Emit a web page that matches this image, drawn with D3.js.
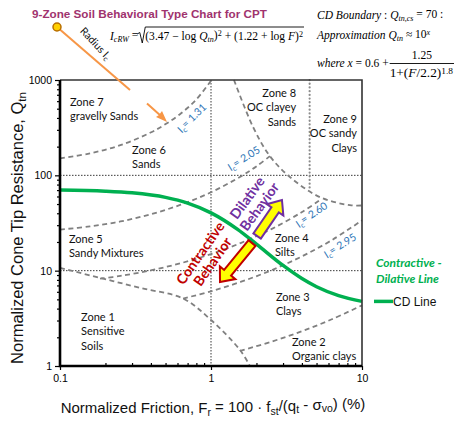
<!DOCTYPE html>
<html>
<head>
<meta charset="utf-8">
<script src="https://cdn.jsdelivr.net/npm/d3@7"></script>
<style>
  body { margin: 0; background: #fff; }
  svg { display: block; }
</style>
</head>
<body>
<div id="chart"></div>
<script>
// Data (F = normalized friction %, Q = Qtn)
var frTicks = [0.1, 1, 10];
var qtnTicks = [1, 10, 100, 1000];

// Ic contours
var ic131F = [0.1, 0.158, 0.251, 0.398, 0.501, 0.631, 0.794, 1.0, 1.006];
var ic131Q = [151, 170, 207, 281, 345, 445, 617, 984, 1000];
var ic205F = [0.1, 0.158, 0.251, 0.398, 0.631, 1.0, 1.585, 1.995, 2.455];
var ic205Q = [27.0, 29.1, 32.8, 39.0, 49.2, 66.4, 98.0, 124, 159];
var ic260F = [0.184, 0.251, 0.398, 0.631, 1.0, 1.585, 2.512, 3.981, 5.25];
var ic260Q = [8.23, 8.81, 10.06, 11.98, 14.93, 19.6, 27.3, 41.0, 54.8];
var ic295F = [0.653, 1.0, 1.585, 2.512, 3.981, 6.31, 10];
var ic295Q = [5.10, 6.08, 7.66, 10.1, 14.07, 20.9, 33.7];
var ic360F = [1.556, 2.512, 3.981, 6.31, 10];
var ic360Q = [1.44, 1.80, 2.31, 3.09, 4.33];

// zone boundaries
var zone1F = [0.1, 0.184, 0.339, 0.653, 1.0, 1.556, 1.81];
var zone1Q = [10.7, 8.4, 6.6, 5.1, 3.04, 1.47, 1.0];
var zone8F = [1.42, 1.90, 2.455, 3.33, 5.27, 8.32, 10];
var zone8Q = [1000, 321, 159, 96, 59, 48.6, 48.3];
var zone89F = [4.5, 4.5];
var zone89Q = [1000, 72];

// contractive - dilative boundary
var cdF = [0.1, 0.2, 0.3, 0.5, 0.7, 1.0, 1.5, 2.0, 3.0, 4.0, 5.0, 7.0, 10];
var cdQ = [70, 68.2, 65.5, 58.7, 51.1, 40.4, 27.1, 19.0, 11.35, 8.28, 6.79, 5.48, 4.76];

var icLabels = ["1.31", "2.05", "2.60", "2.95"];
var zoneNames = [
  ["Zone 7", "gravelly Sands"],
  ["Zone 6", "Sands"],
  ["Zone 8", "OC clayey", "Sands"],
  ["Zone 9", "OC sandy", "Clays"],
  ["Zone 5", "Sandy Mixtures"],
  ["Zone 1", "Sensitive", "Soils"],
  ["Zone 4", "Silts"],
  ["Zone 3", "Clays"],
  ["Zone 2", "Organic clays"]
];

// Set size of chart
var svgWidth = 456;
var svgHeight = 424;
var margin = { top: 80, right: 94, bottom: 58, left: 60 };
var width = svgWidth - margin.left - margin.right;
var height = svgHeight - margin.top - margin.bottom;

var svg = d3.select("#chart")
  .append("svg")
  .attr("width", svgWidth)
  .attr("height", svgHeight);

var chartGroup = svg.append("g")
  .attr("transform", `translate(${margin.left}, ${margin.top})`);

var x = d3.scaleLog().domain([0.1, 10]).range([0, width]);
var y = d3.scaleLog().domain([1, 1000]).range([height, 0]);

var line = d3.line()
  .x(d => x(d[0]))
  .y(d => y(d[1]))
  .curve(d3.curveCatmullRom);

// rich text helper: parts = [{t, i, sub, sup}]
function rich(sel, parts) {
  var shift = 0;
  parts.forEach(function (p) {
    var target = p.sub ? 0.25 : (p.sup ? -0.38 : 0);
    sel.append("tspan")
      .attr("dy", (target - shift) + "em")
      .style("font-size", (p.sub || p.sup) ? "0.7em" : null)
      .style("font-style", p.i ? "italic" : null)
      .text(p.t);
    shift = target;
  });
  return sel;
}

// dotted grid lines
var grid = chartGroup.append("g")
  .attr("stroke", "#222")
  .attr("stroke-width", 0.9)
  .attr("stroke-dasharray", "1.5,1.5");
[10, 100].forEach(function (q) {
  grid.append("line").attr("x1", 0).attr("x2", width).attr("y1", y(q)).attr("y2", y(q));
});
grid.append("line").attr("x1", x(1)).attr("x2", x(1)).attr("y1", 0).attr("y2", height);

// dashed boundaries
var dashed = [
  [ic131F, ic131Q], [ic205F, ic205Q], [ic260F, ic260Q], [ic295F, ic295Q],
  [ic360F, ic360Q], [zone1F, zone1Q], [zone8F, zone8Q]
];
chartGroup.append("g")
  .selectAll("path")
  .data(dashed)
  .enter()
  .append("path")
  .attr("d", d => line(d3.zip(d[0], d[1])))
  .attr("fill", "none")
  .attr("stroke", "#808080")
  .attr("stroke-width", 1.8)
  .attr("stroke-dasharray", "5,3.5");

chartGroup.append("path")
  .attr("d", d3.line().x(d => x(d[0])).y(d => y(d[1]))(d3.zip(zone89F, zone89Q)))
  .attr("stroke", "#8c8c8c")
  .attr("stroke-width", 2.2)
  .attr("stroke-linecap", "round")
  .attr("stroke-dasharray", "0.1,3.6");

// CD line
chartGroup.append("path")
  .attr("d", d3.line().x(d => x(d[0])).y(d => y(d[1])).curve(d3.curveMonotoneX)(d3.zip(cdF, cdQ)))
  .attr("fill", "none")
  .attr("stroke", "#00B050")
  .attr("stroke-width", 3.5);

// axes
var leftMinor = [];
var bottomMinor = [];
[1, 10, 100].forEach(function (d) { for (var k = 2; k < 10; k++) leftMinor.push(d * k); });
[0.1, 1].forEach(function (d) { for (var k = 2; k < 10; k++) bottomMinor.push(d * k); });

chartGroup.append("g")
  .attr("class", "axis")
  .call(d3.axisLeft(y).tickValues(leftMinor).tickSize(3).tickFormat(""));
chartGroup.append("g")
  .attr("class", "axis")
  .call(d3.axisLeft(y).tickValues(qtnTicks).tickSize(5).tickPadding(3).tickFormat(d3.format("d")));
chartGroup.append("g")
  .attr("class", "axis")
  .attr("transform", `translate(0, ${height})`)
  .call(d3.axisBottom(x).tickValues(bottomMinor).tickSize(-3).tickFormat(""));
chartGroup.append("g")
  .attr("class", "axis")
  .attr("transform", `translate(0, ${height})`)
  .call(d3.axisBottom(x).tickValues(frTicks).tickSize(4).tickPadding(5).tickFormat(d => d));

chartGroup.selectAll(".axis .domain").remove();
chartGroup.selectAll(".axis line").attr("stroke", "#000").attr("stroke-width", 1.2);
chartGroup.selectAll(".axis text")
  .style("font-family", "Liberation Sans, Arial, sans-serif")
  .style("font-size", "10.5px")
  .attr("fill", "#000");

// frame
chartGroup.append("path")
  .attr("d", `M0,0H${width}V${height}`)
  .attr("fill", "none")
  .attr("stroke", "#333")
  .attr("stroke-width", 1.6);
chartGroup.append("path")
  .attr("d", `M0,0V${height}H${width}`)
  .attr("fill", "none")
  .attr("stroke", "#000")
  .attr("stroke-width", 2.6);

// zone labels (anchor F, Q of first baseline)
var zonePos = [
  [0.1165, 534, "start"], [0.300, 167, "start"], [3.66, 663, "end"], [9.27, 354, "end"],
  [0.1147, 19.5, "start"], [0.138, 2.96, "start"], [2.65, 20.0, "start"],
  [2.69, 4.81, "start"], [3.44, 1.62, "start"]
];
zoneNames.forEach(function (lines, i) {
  var t = chartGroup.append("text")
    .attr("x", x(zonePos[i][0]))
    .attr("y", y(zonePos[i][1]))
    .attr("text-anchor", zonePos[i][2])
    .style("font-family", "Lato, sans-serif")
    .style("font-size", "11px")
    .attr("fill", "#111");
  lines.forEach(function (s, j) {
    t.append("tspan").attr("x", x(zonePos[i][0])).attr("dy", j ? 14.3 : 0).text(s);
  });
});

// Ic labels
var icPos = [[0.78, 370, -44], [1.705, 138, -32], [4.80, 35.5, -34], [7.40, 16.8, -32]];
icLabels.forEach(function (v, i) {
  var t = chartGroup.append("text")
    .attr("transform", `translate(${x(icPos[i][0])}, ${y(icPos[i][1])}) rotate(${icPos[i][2]})`)
    .attr("text-anchor", "middle")
    .attr("dy", "0.35em")
    .style("font-family", "Lato, sans-serif")
    .style("font-size", "10.5px")
    .attr("fill", "#2E75B6");
  rich(t, [{ t: "I" }, { t: "c", sub: true }, { t: "= " + v }]);
});

// block arrows
function blockArrow(p0, p1, sw, hw, hl) {
  var dx = p1[0] - p0[0], dy = p1[1] - p0[1], L = Math.hypot(dx, dy);
  var ux = dx / L, uy = dy / L, nx = -uy, ny = ux;
  var bx = p1[0] - ux * hl, by = p1[1] - uy * hl;
  return [
    [p0[0] + nx * sw, p0[1] + ny * sw], [bx + nx * sw, by + ny * sw], [bx + nx * hw, by + ny * hw],
    p1, [bx - nx * hw, by - ny * hw], [bx - nx * sw, by - ny * sw], [p0[0] - nx * sw, p0[1] - ny * sw]
  ];
}
chartGroup.append("polygon")
  .attr("points", blockArrow([x(2.02), y(23.1)], [x(2.95), y(55.1)], 4.5, 10, 12).join(" "))
  .attr("fill", "#FFFF00")
  .attr("stroke", "#7030A0")
  .attr("stroke-width", 2);
chartGroup.append("polygon")
  .attr("points", blockArrow([x(1.87), y(19.5)], [x(1.147), y(7.6)], 4.5, 10, 12).join(" "))
  .attr("fill", "#FFFF00")
  .attr("stroke", "#C00000")
  .attr("stroke-width", 2);

// behavior texts
function twoLines(F, Q, rot, color, a, b) {
  var g = chartGroup.append("g")
    .attr("transform", `translate(${x(F)}, ${y(Q)}) rotate(${rot})`)
    .style("font-family", "Lato, sans-serif")
    .style("font-size", "14px")
    .style("font-weight", "bold")
    .attr("fill", color)
    .attr("text-anchor", "middle");
  g.append("text").attr("dy", "0.35em").text(a);
  g.append("text").attr("y", 15).attr("dy", "0.35em").text(b);
}
twoLines(1.74, 58, -54, "#7030A0", "Dilative", "Behavior");
twoLines(0.85, 15.3, -55, "#C00000", "Contractive", "Behavior");

// radius annotation
svg.append("line")
  .attr("x1", 57).attr("y1", 27).attr("x2", 130).attr("y2", 90)
  .attr("stroke", "#F79646").attr("stroke-width", 2);
svg.append("line")
  .attr("x1", 147).attr("y1", 103.5).attr("x2", 161).attr("y2", 116)
  .attr("stroke", "#F79646").attr("stroke-width", 2);
svg.append("path")
  .attr("d", "M167,122 L156,117 L159,115 L162,111 Z")
  .attr("fill", "#F79646");
svg.append("circle")
  .attr("cx", 57).attr("cy", 27).attr("r", 4)
  .attr("fill", "#FFD000").attr("stroke", "#B86E00").attr("stroke-width", 1.5);
var rad = svg.append("text")
  .attr("transform", "translate(93, 46) rotate(47)")
  .attr("text-anchor", "middle")
  .attr("dy", "0.35em")
  .style("font-family", "Lato, sans-serif")
  .style("font-size", "10.5px")
  .attr("fill", "#111");
rich(rad, [{ t: "Radius I" }, { t: "c", sub: true }]);

// title
svg.append("text")
  .attr("x", 32).attr("y", 18.3)
  .style("font-family", "Liberation Sans, Arial, sans-serif")
  .style("font-size", "11.7px")
  .style("font-weight", "bold")
  .attr("fill", "#A0336E")
  .text("9-Zone Soil Behavioral Type Chart for CPT");

// formulas
var serif = "Liberation Serif, Times New Roman, serif";
var f1 = svg.append("text").attr("x", 110).attr("y", 40)
  .style("font-family", serif).style("font-size", "11.5px");
rich(f1, [{ t: "I", i: true }, { t: "cRW", i: true, sub: true }, { t: " = " }]);
var f1end = 110 + f1.node().getComputedTextLength();
var f1b = svg.append("text").attr("x", f1end + 7).attr("y", 40)
  .attr("textLength", 303 - f1end - 7)
  .attr("lengthAdjust", "spacingAndGlyphs")
  .style("font-family", serif).style("font-size", "11.5px");
rich(f1b, [{ t: "(3.47 \u2212 log " }, { t: "Q", i: true }, { t: "tn", i: true, sub: true },
  { t: ")" }, { t: "2", sup: true }, { t: " + (1.22 + log " }, { t: "F", i: true }, { t: ")" }, { t: "2", sup: true }]);
svg.append("path")
  .attr("d", `M${f1end - 1},34 L${f1end + 1.5},32.5 L${f1end + 4},43 L${f1end + 7},27 L304,27`)
  .attr("fill", "none").attr("stroke", "#000").attr("stroke-width", 0.9);

var f2 = svg.append("text").attr("x", 317).attr("y", 19)
  .style("font-family", serif).style("font-size", "11.5px");
rich(f2, [{ t: "CD Boundary", i: true }, { t: " : " }, { t: "Q", i: true }, { t: "tn,cs", i: true, sub: true }, { t: " = 70 :" }]);
var f3 = svg.append("text").attr("x", 317).attr("y", 39)
  .style("font-family", serif).style("font-size", "11.5px");
rich(f3, [{ t: "Approximation ", i: true }, { t: "Q", i: true }, { t: "tn", i: true, sub: true }, { t: " \u2248 10" }, { t: "x", i: true, sup: true }]);
var f4 = svg.append("text").attr("x", 317).attr("y", 67)
  .style("font-family", serif).style("font-size", "11.5px");
rich(f4, [{ t: "where ", i: true }, { t: "x", i: true }, { t: " = 0.6 + " }]);
var fracX = 317 + f4.node().getComputedTextLength() + 1;
var den = svg.append("text").attr("x", fracX).attr("y", 77)
  .attr("textLength", 453 - fracX)
  .attr("lengthAdjust", "spacingAndGlyphs")
  .style("font-family", serif).style("font-size", "11.5px");
rich(den, [{ t: "1+(" }, { t: "F", i: true }, { t: "/2.2)" }, { t: "1.8", sup: true }]);
svg.append("line")
  .attr("x1", fracX).attr("x2", 454).attr("y1", 63.5).attr("y2", 63.5)
  .attr("stroke", "#000").attr("stroke-width", 0.9);
svg.append("text").attr("x", (fracX + 454) / 2).attr("y", 59)
  .attr("text-anchor", "middle")
  .style("font-family", serif).style("font-size", "11.5px")
  .text("1.25");

// legend
var sans = "Liberation Sans, Arial, sans-serif";
var leg = svg.append("g")
  .style("font-family", "Lato, sans-serif")
  .style("font-size", "12px")
  .style("font-weight", "bold")
  .style("font-style", "italic")
  .attr("fill", "#00B050");
leg.append("text").attr("x", 376).attr("y", 267).text("Contractive -");
leg.append("text").attr("x", 376).attr("y", 283).text("Dilative Line");
svg.append("line")
  .attr("x1", 374).attr("x2", 393)
  .attr("y1", margin.top + y(cdQ[cdQ.length - 1])).attr("y2", margin.top + y(cdQ[cdQ.length - 1]))
  .attr("stroke", "#00B050").attr("stroke-width", 3.5);
svg.append("text")
  .attr("x", 393).attr("y", margin.top + y(cdQ[cdQ.length - 1]) + 4.5)
  .style("font-family", sans)
  .style("font-size", "12px")
  .attr("fill", "#111")
  .text("CD Line");

// axis titles
var xt = svg.append("text")
  .attr("x", margin.left + width / 2 + 2).attr("y", 413)
  .attr("text-anchor", "middle")
  .style("font-family", sans)
  .style("font-size", "15px")
  .attr("fill", "#111");
rich(xt, [{ t: "Normalized Friction, F" }, { t: "r", sub: true }, { t: " = 100 \u00b7 f" }, { t: "st", sub: true },
  { t: "/(q" }, { t: "t", sub: true }, { t: " - \u03c3" }, { t: "vo", sub: true }, { t: ")  (%)" }]);
var yt = svg.append("text")
  .attr("transform", `translate(23, 228) rotate(-90)`)
  .attr("text-anchor", "middle")
  .style("font-family", sans)
  .style("font-size", "16.5px")
  .attr("fill", "#111");
rich(yt, [{ t: "Normalized Cone Tip Resistance, Q" }, { t: "tn", sub: true }]);
</script>
</body>
</html>
